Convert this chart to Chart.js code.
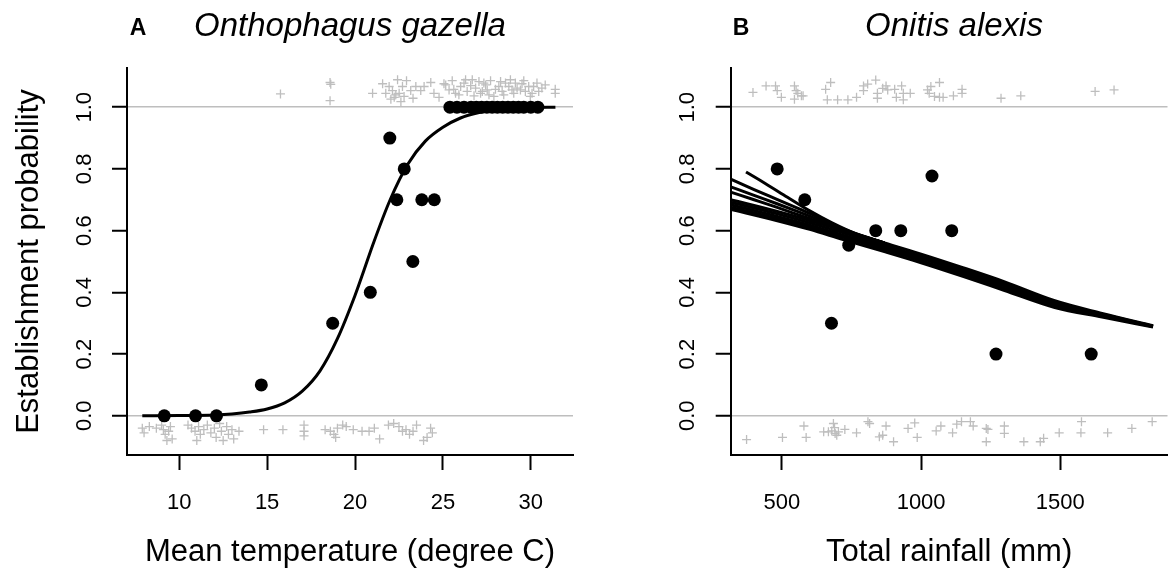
<!DOCTYPE html>
<html>
<head>
<meta charset="utf-8">
<script src="https://cdn.jsdelivr.net/npm/chart.js@4.4.0/dist/chart.umd.min.js"></script>
<style>
  body { margin: 0; background: #fff; }
  #wrap { position: relative; width: 1174px; height: 581px; font-family: "Liberation Sans", Arial, sans-serif; }
  canvas { position: absolute; top: 0; }
  .lab { position: absolute; color: #000; white-space: nowrap; transform: translateX(-50%); }
  .letter { font-weight: bold; font-size: 23px; line-height: 23px; top: 16px; }
  .species { font-style: italic; font-size: 33px; line-height: 33px; top: 8px; }
</style>
</head>
<body>
<div id="wrap">
  <canvas id="tempChart" width="587" height="581" style="left:0"></canvas>
  <canvas id="rainChart" width="587" height="581" style="left:587px"></canvas>
  <div class="lab letter" style="left:138px">A</div>
  <div class="lab species" style="left:350px">Onthophagus gazella</div>
  <div class="lab letter" style="left:741px">B</div>
  <div class="lab species" style="left:954px">Onitis alexis</div>
</div>
<script>
const probTicks = [0, 0.2, 0.4, 0.6, 0.8, 1];
const tempTicks = [10, 15, 20, 25, 30];
const rainTicks = [500, 1000, 1500];

// panel A: observed proportions
const tempObsX = [9.15, 10.93, 12.12, 14.67, 18.73, 20.87, 21.98, 22.38, 22.8, 23.29, 23.8, 24.51,
  25.4, 25.8, 26.2, 26.6, 26.9, 27.2, 27.5, 27.8, 28.1, 28.4, 28.7, 29.0, 29.3, 29.6, 30.0, 30.4];
const tempObsY = [0, 0, 0, 0.1, 0.3, 0.4, 0.9, 0.7, 0.8, 0.5, 0.7, 0.7,
  1, 1, 1, 1, 1, 1, 1, 1, 1, 1, 1, 1, 1, 1, 1, 1];

// panel A: fitted curve
const tempFitX = [7.9, 10, 12, 13, 14, 15, 16, 17, 18, 19, 20, 20.5, 21, 22, 23, 24, 25, 26, 27, 28, 29, 30, 31.4];
const tempFitY = [0, 0.001, 0.003, 0.006, 0.012, 0.022, 0.042, 0.08, 0.145, 0.25, 0.39, 0.47, 0.552, 0.70, 0.815, 0.89, 0.935, 0.965, 0.982, 0.991, 0.995, 0.998, 1.0];

// panel A: jittered presence / absence
const tempTopX = [15.76, 18.58, 18.62, 18.58, 21.0, 21.57, 21.75, 21.94, 22.04, 22.13, 22.23, 22.32, 22.42, 22.51,
  22.61, 22.7, 22.79, 22.93, 23.17, 23.3, 23.46, 23.74, 23.93, 24.31, 24.49, 24.78, 25.06, 25.16, 25.35, 25.53,
  25.62, 25.72, 25.91, 26.01, 26.2, 26.29, 26.38, 26.58, 26.67, 26.77, 26.86, 27.05, 27.14, 27.24, 27.33, 27.43,
  27.52, 27.62, 27.71, 27.9, 27.99, 28.18, 28.28, 28.37, 28.46, 28.56, 28.75, 28.84, 28.93, 29.03, 29.12, 29.22,
  29.41, 29.5, 29.6, 29.69, 29.88, 29.97, 30.07, 30.16, 30.35, 30.45, 30.63, 30.82, 31.39, 31.39];
const tempTopY = [1.043, 1.08, 1.074, 1.021, 1.045, 1.076, 1.045, 1.067, 1.026, 1.054, 1.032, 1.04, 1.089, 1.045,
  1.018, 1.067, 1.035, 1.086, 1.054, 1.029, 1.067, 1.054, 1.067, 1.08, 1.045, 1.032, 1.076, 1.072, 1.056, 1.086,
  1.058, 1.045, 1.04, 1.067, 1.078, 1.089, 1.051, 1.07, 1.089, 1.037, 1.062, 1.083, 1.045, 1.051, 1.078, 1.072,
  1.056, 1.04, 1.086, 1.035, 1.058, 1.067, 1.083, 1.051, 1.04, 1.078, 1.067, 1.089, 1.056, 1.045, 1.078, 1.062,
  1.056, 1.076, 1.086, 1.051, 1.067, 1.035, 1.045, 1.067, 1.078, 1.051, 1.062, 1.072, 1.058, 1.045];
const tempBotX = [7.9, 8.0, 8.3, 8.7, 9.0, 9.1, 9.2, 9.3, 9.4, 9.5, 9.6, 10.5, 10.7, 10.9, 11.0, 11.1, 11.2, 11.4,
  11.6, 11.8, 12.0, 12.1, 12.3, 12.4, 12.5, 12.7, 12.8, 13.0, 13.1, 13.4, 14.8, 15.9, 17.1, 17.1, 17.1, 18.3, 18.6,
  18.8, 18.9, 19.0, 19.3, 19.5, 19.9, 20.4, 20.8, 21.1, 21.4, 21.9, 22.2, 22.5, 22.7, 22.9, 23.1, 23.3, 23.5, 23.9,
  24.1, 24.3, 24.4];
const tempBotY = [-0.04, -0.055, -0.035, -0.04, -0.03, -0.045, -0.06, -0.08, -0.05, -0.035, -0.075, -0.03, -0.04,
  -0.05, -0.08, -0.035, -0.06, -0.045, -0.03, -0.055, -0.04, -0.07, -0.025, -0.05, -0.08, -0.035, -0.06, -0.045,
  -0.075, -0.05, -0.045, -0.045, -0.03, -0.05, -0.065, -0.045, -0.05, -0.06, -0.07, -0.04, -0.03, -0.035, -0.045,
  -0.05, -0.05, -0.04, -0.075, -0.03, -0.025, -0.035, -0.05, -0.045, -0.06, -0.05, -0.03, -0.08, -0.07, -0.04, -0.055];

// panel B: observed proportions
const rainObsX = [483, 582, 678, 740, 837, 927, 1039, 1110, 1269, 1611];
const rainObsY = [0.8, 0.7, 0.3, 0.553, 0.6, 0.6, 0.777, 0.6, 0.2, 0.2];

// panel B: bundle of fitted curves
const rainFitX = [316, 480, 600, 720, 868, 1000, 1150, 1300, 1480, 1650, 1833];
const rainFit1 = [0.700, 0.663, 0.633, 0.600, 0.560, 0.524, 0.480, 0.434, 0.373, 0.332, 0.292];
const rainFit2 = [0.692, 0.655, 0.625, 0.593, 0.553, 0.517, 0.473, 0.427, 0.368, 0.329, 0.291];
const rainFit3 = [0.684, 0.647, 0.618, 0.585, 0.546, 0.510, 0.466, 0.420, 0.362, 0.326, 0.290];
const rainFit4 = [0.676, 0.640, 0.611, 0.578, 0.539, 0.503, 0.459, 0.413, 0.357, 0.323, 0.289];
const rainFit5 = [0.669, 0.633, 0.604, 0.571, 0.532, 0.496, 0.452, 0.406, 0.351, 0.320, 0.288];
const rainUpperX = [316, 400, 480, 560, 640, 720, 868];
const rainUpper1 = [0.767, 0.733, 0.702, 0.671, 0.640, 0.606, 0.560];
const rainUpper2 = [0.742, 0.714, 0.688, 0.661, 0.633, 0.603, 0.560];
const rainUpper3 = [0.725, 0.700, 0.676, 0.651, 0.626, 0.601, 0.560];
const rainSteepX = [371, 440, 520, 600, 680, 760, 868];
const rainSteepY = [0.79, 0.753, 0.708, 0.664, 0.625, 0.592, 0.560];

// panel B: jittered presence / absence
const rainTopX = [396, 443, 477, 483, 498, 545, 551, 557, 570, 545, 576, 657, 675, 663, 700, 737, 768, 793, 793,
  808, 837, 843, 843, 862, 874, 880, 905, 911, 930, 936, 936, 961, 1023, 1035, 1029, 1048, 1066, 1066, 1079, 1116,
  1147, 1147, 1287, 1358, 1625, 1693];
const rainTopY = [1.048, 1.069, 1.069, 1.054, 1.032, 1.069, 1.054, 1.045, 1.037, 1.026, 1.037, 1.058, 1.08, 1.024,
  1.024, 1.024, 1.032, 1.069, 1.054, 1.075, 1.088, 1.045, 1.029, 1.061, 1.069, 1.056, 1.058, 1.032, 1.069, 1.045,
  1.024, 1.045, 1.056, 1.067, 1.045, 1.035, 1.08, 1.032, 1.032, 1.037, 1.045, 1.058, 1.029, 1.037, 1.051, 1.056];
const rainBotX = [373, 502, 579, 587, 650, 667, 679, 685, 689, 691, 697, 703, 726, 768, 809, 815, 850, 862, 874,
  901, 953, 977, 986, 1054, 1071, 1113, 1128, 1145, 1177, 1187, 1234, 1234, 1240, 1299, 1299, 1369, 1428, 1440,
  1496, 1576, 1574, 1670, 1757, 1830];
const rainBotY = [-0.077, -0.07, -0.033, -0.07, -0.052, -0.052, -0.049, -0.025, -0.038, -0.057, -0.063, -0.052,
  -0.044, -0.055, -0.019, -0.025, -0.068, -0.063, -0.033, -0.084, -0.041, -0.023, -0.07, -0.049, -0.033, -0.055,
  -0.027, -0.019, -0.019, -0.033, -0.041, -0.084, -0.044, -0.033, -0.057, -0.084, -0.084, -0.073, -0.055, -0.019,
  -0.055, -0.055, -0.041, -0.019];

const FONT = '"Liberation Sans", Arial, sans-serif';
const GREY = '#bebebe';
Chart.defaults.font.family = FONT;
Chart.defaults.color = '#000';

const pts = (xs, ys) => xs.map((x, i) => ({ x, y: ys[i] }));

function dots(xs, ys) {
  return { data: pts(xs, ys), pointRadius: 6.5, pointBackgroundColor: '#000', pointBorderColor: '#000', pointBorderWidth: 0, showLine: false };
}
function jitter(xs, ys) {
  return { data: pts(xs, ys), pointStyle: 'cross', pointRadius: 4.5, pointBorderColor: GREY, pointBorderWidth: 1.3, showLine: false };
}
function curve(xs, ys) {
  return { data: pts(xs, ys), showLine: true, borderColor: '#000', borderWidth: 3, pointRadius: 0, cubicInterpolationMode: 'monotone', fill: false };
}

function makePanel(canvas, { datasets, xMin, xMax, xTicks, yWidth, padRight, yTitle, xTitle }) {
  return new Chart(canvas, {
    type: 'scatter',
    data: { datasets },
    options: {
      responsive: false,
      animation: false,
      events: [],
      layout: { padding: { top: 68, right: padRight, left: 0, bottom: 0 } },
      plugins: { legend: { display: false }, tooltip: { enabled: false } },
      scales: {
        x: {
          type: 'linear', min: xMin, max: xMax,
          afterBuildTicks: (s) => { s.ticks = xTicks.map((v) => ({ value: v })); },
          afterFit: (s) => { s.height = 126; },
          grid: { drawOnChartArea: false, color: '#000', tickColor: '#000', tickLength: 15, tickWidth: 2 },
          border: { display: true, color: '#000', width: 2 },
          ticks: { font: { size: 22 }, color: '#000', padding: 20, maxRotation: 0, callback: (v) => String(v) },
          title: { display: true, text: xTitle, font: { size: 31 }, color: '#000', padding: { top: 0, bottom: 10 } },
        },
        y: {
          type: 'linear', min: -0.127, max: 1.127,
          afterBuildTicks: (s) => { s.ticks = probTicks.map((v) => ({ value: v })); },
          afterFit: (s) => { s.width = yWidth; },
          grid: {
            color: (c) => (c.tick && (c.tick.value === 0 || c.tick.value === 1) ? GREY : 'rgba(0,0,0,0)'),
            lineWidth: 1.5, tickColor: '#000', tickLength: 15, tickWidth: 2,
          },
          border: { display: true, color: '#000', width: 2 },
          ticks: { font: { size: 22 }, color: '#000', minRotation: 90, maxRotation: 90, crossAlign: 'center', padding: 12,
            callback: (v) => v.toFixed(1) },
          title: { display: !!yTitle, text: yTitle || '', font: { size: 31 }, color: '#000', padding: { top: 11, bottom: 0 } },
        },
      },
    },
  });
}

makePanel(document.getElementById('tempChart'), {
  xMin: 7.03, xMax: 32.4, xTicks: tempTicks, yWidth: 127, padRight: 14,
  yTitle: 'Establishment probability', xTitle: 'Mean temperature (degree C)',
  datasets: [
    dots(tempObsX, tempObsY),
    curve(tempFitX, tempFitY),
    jitter(tempTopX, tempTopY),
    jitter(tempBotX, tempBotY),
  ],
});

makePanel(document.getElementById('rainChart'), {
  xMin: 316, xMax: 1885, xTicks: rainTicks, yWidth: 143.7, padRight: 0,
  yTitle: null, xTitle: 'Total rainfall (mm)',
  datasets: [
    dots(rainObsX, rainObsY),
    curve(rainSteepX, rainSteepY),
    curve(rainUpperX, rainUpper1),
    curve(rainUpperX, rainUpper2),
    curve(rainUpperX, rainUpper3),
    curve(rainFitX, rainFit1),
    curve(rainFitX, rainFit2),
    curve(rainFitX, rainFit3),
    curve(rainFitX, rainFit4),
    curve(rainFitX, rainFit5),
    jitter(rainTopX, rainTopY),
    jitter(rainBotX, rainBotY),
  ],
});
</script>
</body>
</html>
